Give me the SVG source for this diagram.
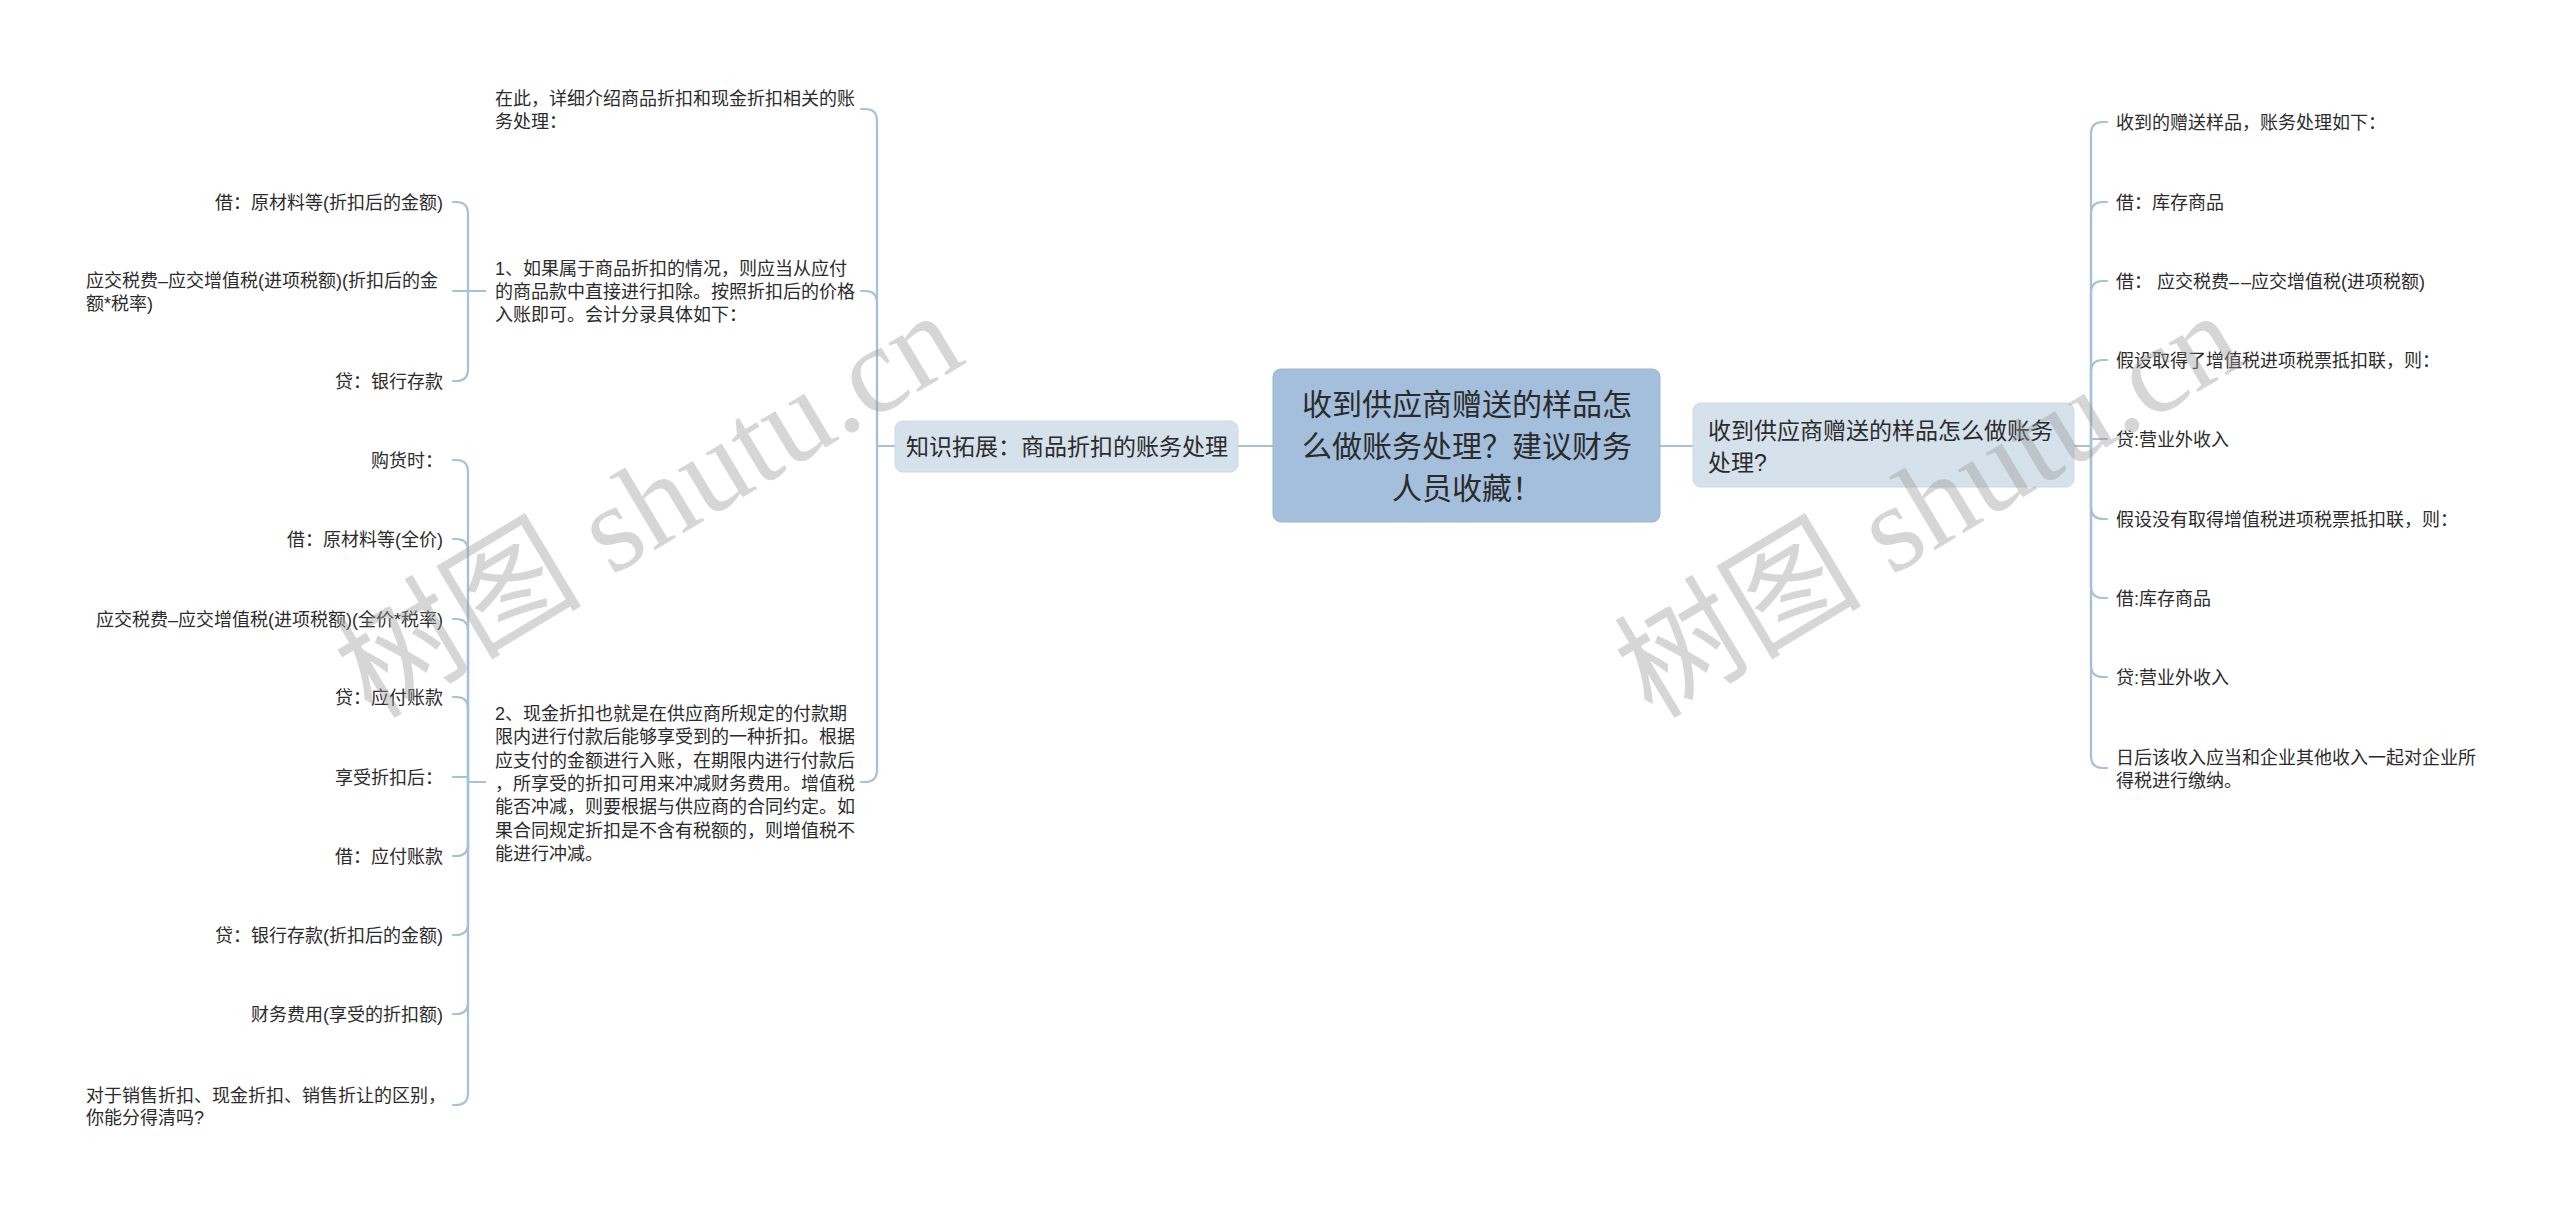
<svg xmlns="http://www.w3.org/2000/svg" width="2560" height="1213" viewBox="0 0 2560 1213">
<style>
.t{font-family:"Liberation Sans","Noto Sans CJK SC",sans-serif;fill:#2b2b2b;}
.s18{font-size:18px;}
.s23{font-size:23px;}
.s30{font-size:30px;}
.end{text-anchor:end;}
.mid{text-anchor:middle;}
.ln{fill:none;stroke:#a6c0d9;stroke-width:2.2;stroke-linecap:round;stroke-linejoin:round;}
.root{fill:#a3bfdc;stroke:#98b5d2;stroke-width:1;}
.l1{fill:#d5e1eb;stroke:#cddae6;stroke-width:1;}
.wm{font-family:"Liberation Serif","Noto Sans CJK SC",serif;font-size:124px;fill:#9a9a9a;opacity:0.4;}
</style>
<rect x="0" y="0" width="2560" height="1213" fill="#ffffff"/>
<g id="connectors">
<path class="ln" d="M1273,446 H1238"/>
<path class="ln" d="M1660,446 H1693"/>
<path class="ln" d="M895,446 H877 V121 Q877,109 865,109 H861"/>
<path class="ln" d="M895,446 H877 V303 Q877,291 865,291 H861"/>
<path class="ln" d="M895,446 H877 V770 Q877,782 865,782 H861"/>
<path class="ln" d="M485,291 H468 V214 Q468,202 456,202 H453"/>
<path class="ln" d="M485,291 H453"/>
<path class="ln" d="M485,291 H468 V369 Q468,381 456,381 H453"/>
<path class="ln" d="M485,782 H468 V472 Q468,460 456,460 H453"/>
<path class="ln" d="M485,782 H468 V551 Q468,539 456,539 H453"/>
<path class="ln" d="M485,782 H468 V631 Q468,619 456,619 H453"/>
<path class="ln" d="M485,782 H468 V709 Q468,697 456,697 H453"/>
<path class="ln" d="M485,782 H468 V777 H453"/>
<path class="ln" d="M485,782 H468 V844 Q468,856 456,856 H453"/>
<path class="ln" d="M485,782 H468 V923 Q468,935 456,935 H453"/>
<path class="ln" d="M485,782 H468 V1002 Q468,1014 456,1014 H453"/>
<path class="ln" d="M485,782 H468 V1093 Q468,1105 456,1105 H453"/>
<path class="ln" d="M2074,446 H2091 V134 Q2091,122 2103,122 H2107"/>
<path class="ln" d="M2074,446 H2091 V214 Q2091,202 2103,202 H2107"/>
<path class="ln" d="M2074,446 H2091 V293 Q2091,281 2103,281 H2107"/>
<path class="ln" d="M2074,446 H2091 V372 Q2091,360 2103,360 H2107"/>
<path class="ln" d="M2074,446 H2091 V439 H2107"/>
<path class="ln" d="M2074,446 H2091 V507 Q2091,519 2103,519 H2107"/>
<path class="ln" d="M2074,446 H2091 V586 Q2091,598 2103,598 H2107"/>
<path class="ln" d="M2074,446 H2091 V665 Q2091,677 2103,677 H2107"/>
<path class="ln" d="M2074,446 H2091 V756 Q2091,768 2103,768 H2107"/>
</g>
<g id="root">
<rect class="root" x="1273" y="369" width="387" height="153" rx="8"/>
<text class="t s30 mid" x="1467" y="415">收到供应商赠送的样品怎</text>
<text class="t s30 mid" x="1467" y="457">么做账务处理？建议财务</text>
<text class="t s30 mid" x="1467" y="499">人员收藏！</text>
</g>
<g id="n-right">
<rect class="l1" x="1693" y="403" width="381" height="84" rx="8"/>
<text class="t s23" x="1708" y="439">收到供应商赠送的样品怎么做账务</text>
<text class="t s23" x="1708" y="471">处理?</text>
</g>
<g id="n-left">
<rect class="l1" x="895" y="421" width="343" height="51" rx="8"/>
<text class="t s23" x="906" y="455">知识拓展：商品折扣的账务处理</text>
</g>
<g id="l2-intro">
<text class="t s18" x="495" y="105">在此，详细介绍商品折扣和现金折扣相关的账</text>
<text class="t s18" x="495" y="128">务处理：</text>
</g>
<g id="l2-1">
<text class="t s18" x="495" y="275">1、如果属于商品折扣的情况，则应当从应付</text>
<text class="t s18" x="495" y="298">的商品款中直接进行扣除。按照折扣后的价格</text>
<text class="t s18" x="495" y="321">入账即可。会计分录具体如下：</text>
</g>
<g id="l2-2">
<text class="t s18" x="495" y="720">2、现金折扣也就是在供应商所规定的付款期</text>
<text class="t s18" x="495" y="743">限内进行付款后能够享受到的一种折扣。根据</text>
<text class="t s18" x="495" y="767">应支付的金额进行入账，在期限内进行付款后</text>
<text class="t s18" x="495" y="790">，所享受的折扣可用来冲减财务费用。增值税</text>
<text class="t s18" x="495" y="813">能否冲减，则要根据与供应商的合同约定。如</text>
<text class="t s18" x="495" y="837">果合同规定折扣是不含有税额的，则增值税不</text>
<text class="t s18" x="495" y="860">能进行冲减。</text>
</g>
<g id="l3-a1"><text class="t s18 end" x="443" y="209">借：原材料等(折扣后的金额)</text></g>
<g id="l3-a2">
<text class="t s18" x="86" y="287">应交税费–应交增值税(进项税额)(折扣后的金</text>
<text class="t s18" x="86" y="310">额*税率)</text>
</g>
<g id="l3-a3"><text class="t s18 end" x="443" y="388">贷：银行存款</text></g>
<g id="l3-b1"><text class="t s18 end" x="443" y="467">购货时：</text></g>
<g id="l3-b2"><text class="t s18 end" x="443" y="546">借：原材料等(全价)</text></g>
<g id="l3-b3"><text class="t s18 end" x="443" y="626">应交税费–应交增值税(进项税额)(全价*税率)</text></g>
<g id="l3-b4"><text class="t s18 end" x="443" y="704">贷：应付账款</text></g>
<g id="l3-b5"><text class="t s18 end" x="443" y="784">享受折扣后：</text></g>
<g id="l3-b6"><text class="t s18 end" x="443" y="863">借：应付账款</text></g>
<g id="l3-b7"><text class="t s18 end" x="443" y="942">贷：银行存款(折扣后的金额)</text></g>
<g id="l3-b8"><text class="t s18 end" x="443" y="1021">财务费用(享受的折扣额)</text></g>
<g id="l3-b9">
<text class="t s18" x="86" y="1102">对于销售折扣、现金折扣、销售折让的区别，</text>
<text class="t s18" x="86" y="1124">你能分得清吗?</text>
</g>
<g id="r1"><text class="t s18" x="2116" y="129">收到的赠送样品，账务处理如下：</text></g>
<g id="r2"><text class="t s18" x="2116" y="209">借：库存商品</text></g>
<g id="r3"><text class="t s18" x="2116" y="288">借： 应交税费–<tspan dx="2">–</tspan>应交增值税(进项税额)</text></g>
<g id="r4"><text class="t s18" x="2116" y="367">假设取得了增值税进项税票抵扣联，则：</text></g>
<g id="r5"><text class="t s18" x="2116" y="446">贷:营业外收入</text></g>
<g id="r6"><text class="t s18" x="2116" y="526">假设没有取得增值税进项税票抵扣联，则：</text></g>
<g id="r7"><text class="t s18" x="2116" y="605">借:库存商品</text></g>
<g id="r8"><text class="t s18" x="2116" y="684">贷:营业外收入</text></g>
<g id="r9">
<text class="t s18" x="2116" y="764">日后该收入应当和企业其他收入一起对企业所</text>
<text class="t s18" x="2116" y="787">得税进行缴纳。</text>
</g>
<g id="watermark">
<text class="wm" x="372" y="720" transform="rotate(-31 372 720)">树图 shutu.cn</text>
<text class="wm" x="1652" y="720" transform="rotate(-31 1652 720)">树图 shutu.cn</text>
</g>
</svg>
